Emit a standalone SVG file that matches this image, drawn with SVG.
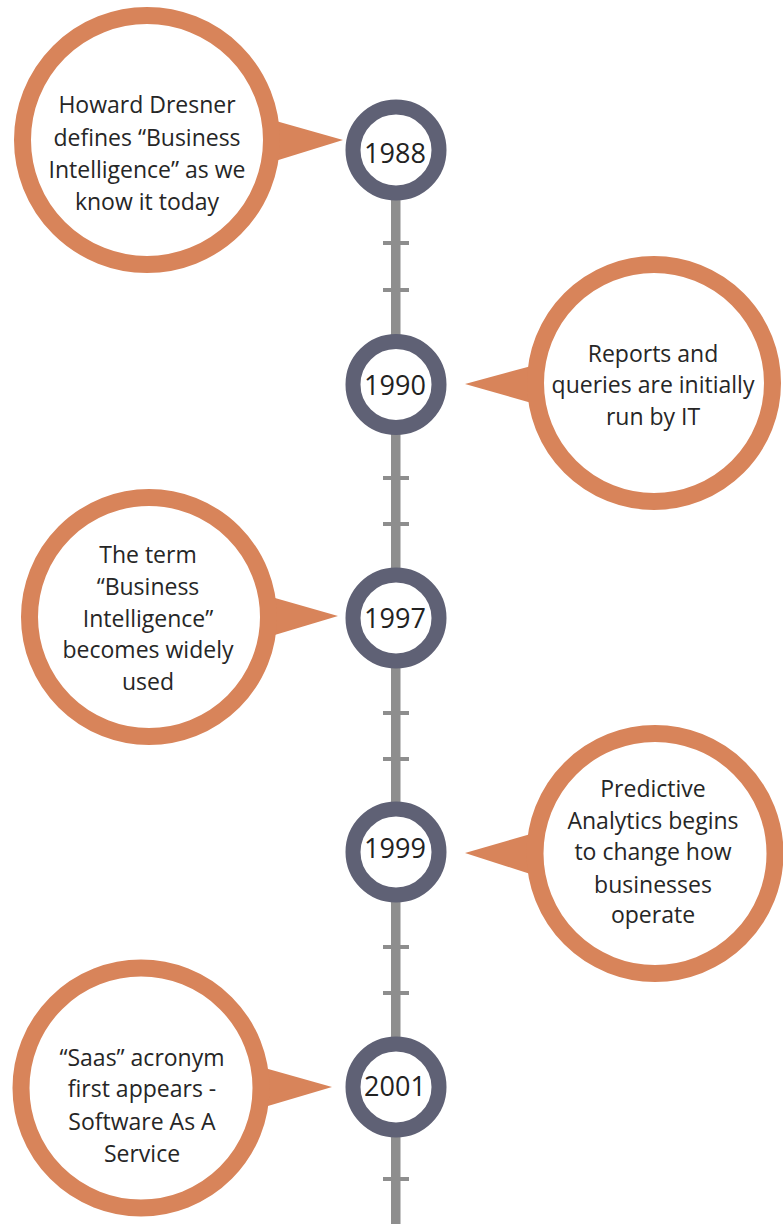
<svg xmlns="http://www.w3.org/2000/svg" width="783" height="1224" viewBox="0 0 783 1224">
<style>
.bubble{fill:#fff;stroke:#D8845A;stroke-width:17}
.ptr{fill:#D8845A}
.node{fill:#fff;stroke:#5F6175;stroke-width:15}
.yr{font-family:"Open Sans","Noto Sans",sans-serif;font-size:27px;fill:#222;text-anchor:middle}
.txt{font-family:"Open Sans","Noto Sans",sans-serif;font-size:23px;fill:#262626;text-anchor:middle}
.tick{fill:#8E8E8E}
</style>
<rect width="783" height="1224" fill="#fff"/>
<g id="connectors">
<rect x="391" y="150" width="9.5" height="1074" fill="#8E8E8E"/>
<rect class="tick" x="383" y="241" width="26" height="4"/>
<rect class="tick" x="383" y="288" width="26" height="4"/>
<rect class="tick" x="383" y="476" width="26" height="4"/>
<rect class="tick" x="383" y="522" width="26" height="4"/>
<rect class="tick" x="383" y="711" width="26" height="4"/>
<rect class="tick" x="383" y="757" width="26" height="4"/>
<rect class="tick" x="383" y="945" width="26" height="4"/>
<rect class="tick" x="383" y="991" width="26" height="4"/>
<rect class="tick" x="383" y="1177" width="26" height="4"/>
</g>
<g id="node-1988">
<circle class="node" cx="396" cy="150" r="43"/>
<text class="yr" x="395" y="163">1988</text>
</g>
<g id="node-1990">
<circle class="node" cx="396" cy="384.5" r="43"/>
<text class="yr" x="395" y="395">1990</text>
</g>
<g id="node-1997">
<circle class="node" cx="396" cy="618" r="43"/>
<text class="yr" x="395" y="628">1997</text>
</g>
<g id="node-1999">
<circle class="node" cx="396" cy="852" r="43"/>
<text class="yr" x="395" y="858">1999</text>
</g>
<g id="node-2001">
<circle class="node" cx="396" cy="1087" r="43"/>
<text class="yr" x="395" y="1096">2001</text>
</g>
<g id="bubble-1988">
<polygon class="ptr" points="268,118.7 343,140 268,163.3"/>
<circle class="bubble" cx="147" cy="140" r="124.5"/>
<text class="txt" x="147" y="113">Howard Dresner</text>
<text class="txt" x="147" y="146">defines “Business</text>
<text class="txt" x="147" y="178">Intelligence” as we</text>
<text class="txt" x="147" y="210">know it today</text>
</g>
<g id="bubble-1990">
<polygon class="ptr" points="536,364.8 465,384 536,404.3"/>
<circle class="bubble" cx="654" cy="383" r="118.5"/>
<text class="txt" x="653" y="362">Reports and</text>
<text class="txt" x="653" y="393">queries are initially</text>
<text class="txt" x="653" y="425">run by IT</text>
</g>
<g id="bubble-1997">
<polygon class="ptr" points="268,596 338,616 268,637"/>
<circle class="bubble" cx="149" cy="617" r="119.5"/>
<text class="txt" x="148" y="563">The term</text>
<text class="txt" x="148" y="595">“Business</text>
<text class="txt" x="148" y="627">Intelligence”</text>
<text class="txt" x="148" y="658">becomes widely</text>
<text class="txt" x="148" y="690">used</text>
</g>
<g id="bubble-1999">
<polygon class="ptr" points="535,832.7 465,853 535,875.4"/>
<circle class="bubble" cx="655" cy="853.5" r="120"/>
<text class="txt" x="653" y="797">Predictive</text>
<text class="txt" x="653" y="829">Analytics begins</text>
<text class="txt" x="653" y="860">to change how</text>
<text class="txt" x="653" y="893">businesses</text>
<text class="txt" x="653" y="923">operate</text>
</g>
<g id="bubble-2001">
<polygon class="ptr" points="262,1067.3 332,1087 262,1107.8"/>
<circle class="bubble" cx="141" cy="1088" r="120"/>
<text class="txt" x="142" y="1066">“Saas” acronym</text>
<text class="txt" x="142" y="1097">first appears -</text>
<text class="txt" x="142" y="1130">Software As A</text>
<text class="txt" x="142" y="1162">Service</text>
</g>
</svg>
